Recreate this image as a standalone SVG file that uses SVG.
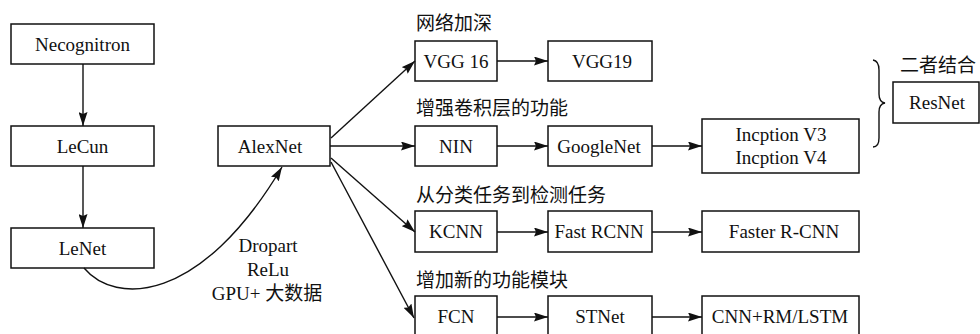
<svg xmlns="http://www.w3.org/2000/svg" width="980" height="334" viewBox="0 0 980 334">
<style>
.box{fill:#fff;stroke:#111;stroke-width:1.5}
.t{font-family:"Liberation Serif","Times New Roman",serif;font-size:19px;fill:#111;text-anchor:middle}
.c{font-family:"Liberation Serif","Noto Sans CJK SC",serif;font-size:19px;fill:#111}
.e{fill:none;stroke:#111;stroke-width:1.4}
</style>
<defs>
<marker id="ah" markerWidth="15" markerHeight="9" refX="14" refY="4.5" orient="auto" markerUnits="userSpaceOnUse">
<path d="M0,0 L14,4.5 L0,9 L2,4.5 z" fill="#111"/>
</marker>
</defs>
<rect width="980" height="334" fill="#fff"/>
<g id="labels">
<text class="c" x="416" y="30">网络加深</text>
<text class="c" x="416" y="115">增强卷积层的功能</text>
<text class="c" x="416" y="202">从分类任务到检测任务</text>
<text class="c" x="416" y="287">增加新的功能模块</text>
<text class="c" x="900" y="72">二者结合</text>
<text class="t" x="268" y="252">Dropart</text>
<text class="t" x="268" y="276">ReLu</text>
<text class="c" x="267" y="300" text-anchor="middle">GPU+ 大数据</text>
</g>
<g id="n-necognitron"><rect class="box" x="11" y="24" width="143" height="40"/><text class="t" x="82.5" y="50.5">Necognitron</text></g>
<g id="n-lecun"><rect class="box" x="11" y="126" width="143" height="40"/><text class="t" x="82.5" y="152.5">LeCun</text></g>
<g id="n-lenet"><rect class="box" x="11" y="228" width="143" height="40"/><text class="t" x="82.5" y="254.5">LeNet</text></g>
<g id="n-alexnet"><rect class="box" x="218" y="126" width="112" height="40"/><text class="t" x="270" y="152.5">AlexNet</text></g>
<g id="n-vgg16"><rect class="box" x="415" y="41" width="82" height="40"/><text class="t" x="456" y="67.5">VGG 16</text></g>
<g id="n-vgg19"><rect class="box" x="548" y="41" width="104" height="40"/><text class="t" x="602" y="67.5">VGG19</text></g>
<g id="n-nin"><rect class="box" x="415" y="126" width="82" height="40"/><text class="t" x="456" y="152.5">NIN</text></g>
<g id="n-googlenet"><rect class="box" x="548" y="126" width="104" height="40"/><text class="t" x="599" y="152.5">GoogleNet</text></g>
<g id="n-inception"><rect class="box" x="702" y="119" width="157" height="54"/><text class="t" x="781" y="141">Incption V3</text><text class="t" x="781" y="164">Incption V4</text></g>
<g id="n-kcnn"><rect class="box" x="415" y="211" width="82" height="41"/><text class="t" x="456" y="238">KCNN</text></g>
<g id="n-fastrcnn"><rect class="box" x="548" y="211" width="104" height="41"/><text class="t" x="599" y="238">Fast RCNN</text></g>
<g id="n-fasterrcnn"><rect class="box" x="702" y="211" width="157" height="41"/><text class="t" x="784" y="238">Faster R-CNN</text></g>
<g id="n-fcn"><rect class="box" x="415" y="296" width="82" height="40"/><text class="t" x="456" y="323">FCN</text></g>
<g id="n-stnet"><rect class="box" x="548" y="296" width="104" height="40"/><text class="t" x="600" y="323">STNet</text></g>
<g id="n-cnnrm"><rect class="box" x="702" y="296" width="157" height="40"/><text class="t" x="780" y="323">CNN+RM/LSTM</text></g>
<g id="n-resnet"><rect class="box" x="893" y="82" width="86" height="41"/><text class="t" x="937" y="109">ResNet</text></g>
<g id="connectors">
<path class="e" d="M83,64 L83,126" marker-end="url(#ah)"/>
<path class="e" d="M83,166 L83,228" marker-end="url(#ah)"/>
<path class="e" d="M84,268 C115,305 200,305 282,167" marker-end="url(#ah)"/>
<path class="e" d="M331,138 L415,61" marker-end="url(#ah)"/>
<path class="e" d="M330,146 L415,146" marker-end="url(#ah)"/>
<path class="e" d="M331,158 L415,232" marker-end="url(#ah)"/>
<path class="e" d="M331,162 L414,318" marker-end="url(#ah)"/>
<path class="e" d="M497,61 L548,61" marker-end="url(#ah)"/>
<path class="e" d="M497,146 L548,146" marker-end="url(#ah)"/>
<path class="e" d="M652,146 L702,146" marker-end="url(#ah)"/>
<path class="e" d="M497,232 L548,232" marker-end="url(#ah)"/>
<path class="e" d="M652,232 L702,232" marker-end="url(#ah)"/>
<path class="e" d="M497,317 L548,317" marker-end="url(#ah)"/>
<path class="e" d="M652,317 L702,317" marker-end="url(#ah)"/>
<path class="e" d="M873,60 Q879,61 879,70 L879,94 Q879,102 885,103 Q879,104 879,112 L879,138 Q879,147 873,147"/>
</g>
</svg>
